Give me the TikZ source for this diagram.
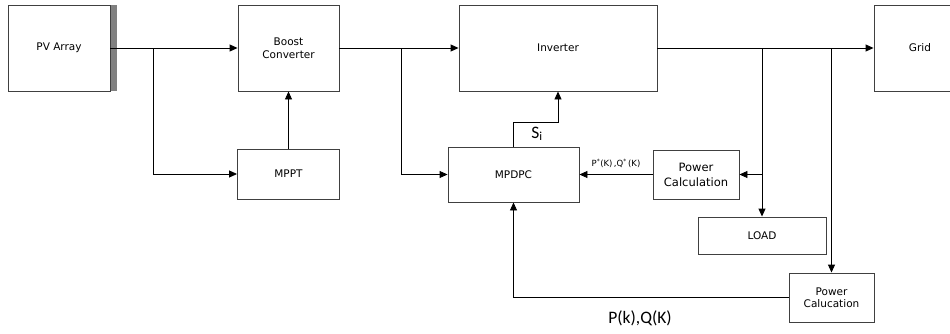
\documentclass[tikz,border=0pt]{standalone}
\usepackage{fontspec}
\setmainfont{DejaVu Sans}
\newfontfamily\carlito{Carlito}
\usetikzlibrary{arrows.meta}

\newcommand\boiteTexte{\fontsize{10.5}{12.5}\selectfont}
\newcommand\grandTexte{\carlito\fontsize{17.5}{19}\selectfont}

\begin{document}
\begin{tikzpicture}[x=1pt, y=-1pt, >={Triangle[length=8pt,width=7pt]},
    bloc/.style={draw=black!75, line width=0.9pt, rectangle, align=center,
      inner sep=0pt, font=\boiteTexte},
    fleche/.style={->, line width=0.9pt}]
   \useasboundingbox (0, 0) rectangle (950, 333) ;
   \fill[black!50] (110, 5) rectangle (117, 91) ;
   \node[bloc, minimum width=102pt, minimum height=86pt] (pv) at (59, 48) {PV Array} ;
   \node[bloc, minimum width=101pt, minimum height=86pt] (boost) at (288.5, 48) {Boost\\Converter} ;
   \node[bloc, minimum width=102pt, minimum height=50pt] (mppt) at (288.5, 174) {MPPT} ;
   \node[bloc, minimum width=198pt, minimum height=86pt] (inv) at (558, 48) {Inverter} ;
   \node[bloc, minimum width=92pt, minimum height=86pt] (grid) at (920, 48) {Grid} ;
   \node[bloc, minimum width=131pt, minimum height=55pt] (mpdpc) at (513.5, 174.5) {MPDPC} ;
   \node[bloc, minimum width=86pt, minimum height=49pt, font=\fontsize{11.5}{15}\selectfont] (pcalc) at (696, 174.5) {Power\\Calculation} ;
   \node[bloc, minimum width=128pt, minimum height=37pt] (load) at (762, 235.5) {LOAD} ;
   \node[bloc, minimum width=85pt, minimum height=49pt] (pcalc2) at (831.5, 297.5) {Power\\Calucation} ;
   \coordinate (j1) at (153, 48) ;
   \coordinate (j2) at (401, 48) ;
   \coordinate (j3) at (762, 48) ;
   \coordinate (j4) at (831.5, 48) ;
   \coordinate (si) at (513.5, 122) ;
   \draw[fleche] (pv) -- (boost) ;
   \draw[fleche] (j1) |- (mppt) ;
   \draw[fleche] (mppt) -- (boost) ;
   \draw[fleche] (boost) -- (inv) ;
   \draw[fleche] (j2) |- (mpdpc) ;
   \draw[fleche] (mpdpc.north) -- (si) -| (inv.south) ;
   \draw[fleche] (inv) -- (grid) ;
   \draw[fleche] (j3) -- (load.north) ;
   \draw[fleche] (j3 |- pcalc.east) -- (pcalc.east) ;
   \draw[fleche] (j4) -- (pcalc2.north) ;
   \draw[fleche] (pcalc) -- (mpdpc)
     node [midway, above=3pt, font=\fontsize{8.5}{9}\selectfont] {P\textsuperscript{*}(K)\,,Q\textsuperscript{*}\,(K)} ;
   \draw[fleche] (pcalc2.west) -| (mpdpc.south) ;
   \node[font=\grandTexte] (silabel) at (537, 134) {S\textsubscript{i}} ;
   \node[font=\grandTexte] (pqlabel) at (640, 318) {P(k),Q(K)} ;
\end{tikzpicture}
\end{document}
